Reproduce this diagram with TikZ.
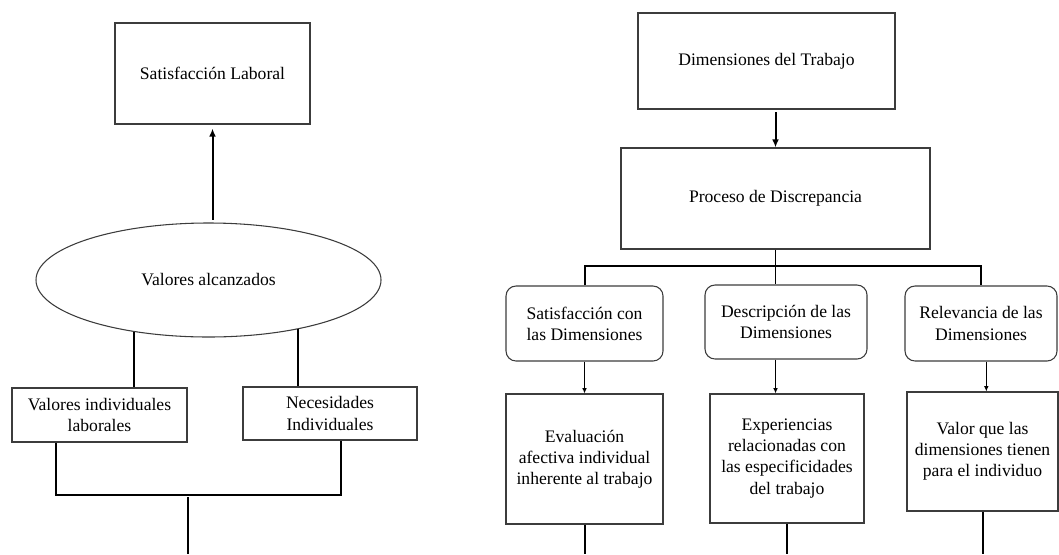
\documentclass[tikz,border=0pt]{standalone}
\usepackage{fontspec}
\setmainfont{Liberation Serif}
\usepackage{tikz}
\usetikzlibrary{shapes.geometric, arrows.meta}
\definecolor{boxline}{RGB}{60,60,60}

\begin{document}
\begin{tikzpicture}[x=0.75pt, y=-0.75pt, font=\fontsize{13.2}{15.8}\selectfont,
  box/.style={draw=boxline, line width=0.8pt, align=center, inner sep=2pt},
  rbox/.style={box, rounded corners=7.5pt},
  link/.style={line width=1.5pt},
  hair/.style={line width=0.75pt},
  bigtip/.style={-{Latex[length=6pt,width=5pt]}},
  smalltip/.style={-{Latex[length=4pt,width=3.5pt]}}]
\useasboundingbox (0,0) rectangle (1059,554);

% Left part: values -> satisfaction
\node[box, minimum width=146.25pt, minimum height=75.75pt] (satlab) at (212.5,73.5) {Satisfacción Laboral};
\node[ellipse, draw=boxline, line width=0.8pt, minimum width=258.75pt, minimum height=85.5pt, inner sep=0pt] (valalc) at (208.5,280) {Valores alcanzados};
\node[box, minimum width=131.25pt, minimum height=40.5pt] (valind) at (99.5,415) {Valores individuales\\laborales};
\node[box, minimum width=130.5pt, minimum height=39.75pt] (necind) at (330,413.5) {Necesidades\\Individuales};
\coordinate (joinL) at (188,497);
\coordinate (outL) at (188,554);

\draw[link, bigtip, shorten <=2pt, shorten >=3pt] (satlab.south |- valalc.north) -- (satlab.south);
\draw[link] (valalc.215.5) -- (valalc.215.5 |- valind.north);
\draw[link] (valalc.-29) -- (valalc.-29 |- necind.north);
\draw[link] ([xshift=-32.6pt]valind.south) -- ++(0,52) -| ([xshift=8.25pt]necind.south);
\draw[link] (joinL) -- (outL);

% Right part: discrepancy process
\node[box, minimum width=192.75pt, minimum height=72pt] (dimtrab) at (766.5,61) {Dimensiones del Trabajo};
\node[box, minimum width=231.75pt, minimum height=75.75pt] (procdis) at (775.5,198.5) {Proceso de Discrepancia};
\node[rbox, minimum width=117.75pt, minimum height=56.25pt] (satdim) at (584.5,323.5) {Satisfacción con\\las Dimensiones};
\node[rbox, minimum width=121.5pt, minimum height=55.5pt] (desdim) at (786,322) {Descripción de las\\Dimensiones};
\node[rbox, minimum width=114pt, minimum height=56.25pt] (reldim) at (981,323.5) {Relevancia de las\\Dimensiones};
\node[box, minimum width=117.75pt, minimum height=97.5pt] (evalaf) at (584.5,459) {Evaluación\\afectiva individual\\inherente al trabajo};
\node[box, minimum width=115.5pt, minimum height=96.75pt] (experi) at (787,458.5) {Experiencias\\relacionadas con\\las especificidades\\del trabajo};
\node[box, minimum width=113.25pt, minimum height=89.25pt] (valdim) at (982.5,451.5) {Valor que las\\dimensiones tienen\\para el individuo};

\draw[link, bigtip, shorten <=2pt] (procdis.north |- dimtrab.south) -- (procdis.north);
\draw[hair] (procdis.south) -- (procdis.south |- desdim.north);
\draw[link] (satdim.north) -- ++(0,-19) -| (reldim.north);
\draw[hair, smalltip] (satdim) -- (evalaf);
\draw[hair, smalltip] (desdim.south -| procdis.south) -- (experi.north -| procdis.south);
\draw[hair, smalltip] ([xshift=4pt]reldim.south) -- ([xshift=4pt]reldim.south |- valdim.north);
\draw[link] (evalaf.south) -- (evalaf.south |- outL);
\draw[link] (experi.south) -- (experi.south |- outL);
\draw[link] (valdim.south) -- (valdim.south |- outL);
\end{tikzpicture}
\end{document}
